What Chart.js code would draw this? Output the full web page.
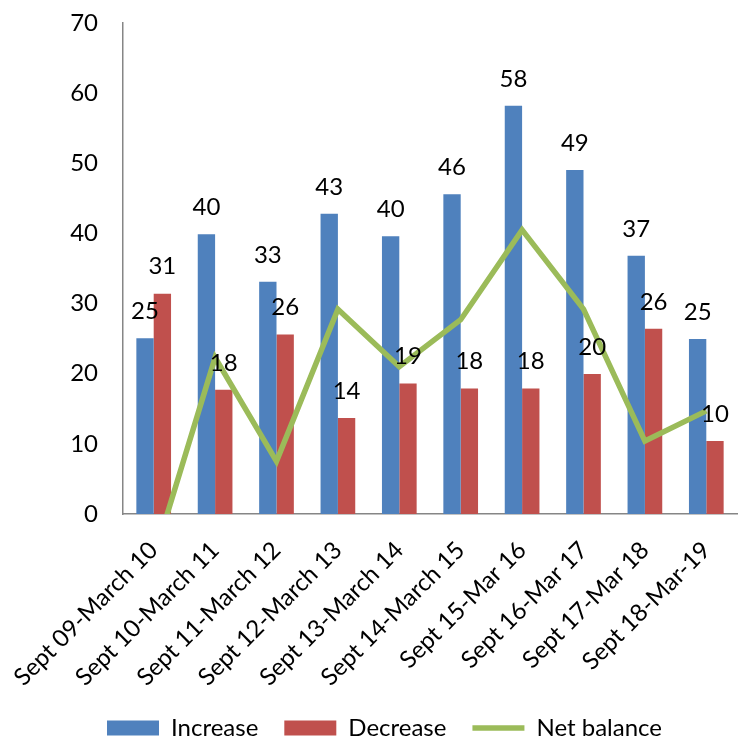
<!DOCTYPE html>
<html>
<head>
<meta charset="utf-8">
<script src="https://cdn.jsdelivr.net/npm/chart.js@4.4.1/dist/chart.umd.min.js"></script>
<style>
  html, body { margin: 0; padding: 0; background: #fff; }
  #wrap { width: 743px; height: 739px; }
</style>
</head>
<body>
<div id="wrap"><canvas id="chart"></canvas></div>
<script>
// categories and values
const periods = ['Sept 09-March 10', 'Sept 10-March 11', 'Sept 11-March 12', 'Sept 12-March 13',
    'Sept 13-March 14', 'Sept 14-March 15', 'Sept 15-Mar 16', 'Sept 16-Mar 17',
    'Sept 17-Mar 18', 'Sept 18-Mar-19'];
const increase = [25.05, 39.9, 33.1, 42.8, 39.6, 45.6, 58.2, 49.05, 36.8, 24.95];
const decrease = [31.4, 17.7, 25.6, 13.7, 18.6, 17.9, 17.9, 19.95, 26.4, 10.4];
const net_balance = [-6.3, 22.3, 7.5, 29.2, 21.0, 27.7, 40.5, 29.2, 10.4, 14.7];
const y_ticks = [0, 10, 20, 30, 40, 50, 60, 70];

const FONT = 'Lato, "Open Sans", sans-serif';

// draws the rounded value above each bar
const bar_labels = {
    id: 'bar_labels',
    afterDatasetsDraw(chart) {
        const ctx = chart.ctx;
        ctx.save();
        ctx.font = '24px ' + FONT;
        ctx.fillStyle = '#000';
        ctx.textAlign = 'center';
        ctx.textBaseline = 'middle';
        [0, 1].forEach(i => {
            const meta = chart.getDatasetMeta(i);
            meta.data.forEach((bar, j) => {
                const v = chart.data.datasets[i].data[j];
                ctx.fillText(Math.round(v), bar.x, bar.y - 27);
            });
        });
        ctx.restore();
    }
};

const config = {
    type: 'bar',
    data: {
        labels: periods,
        datasets: [{
            label: 'Increase',
            data: increase,
            backgroundColor: '#4F81BD',
            borderWidth: 0,
            pointStyle: 'rect',
            order: 1
        }, {
            label: 'Decrease',
            data: decrease,
            backgroundColor: '#C0504D',
            borderWidth: 0,
            pointStyle: 'rect',
            order: 1
        }, {
            type: 'line',
            label: 'Net balance',
            data: net_balance,
            borderColor: '#9BBB59',
            backgroundColor: '#9BBB59',
            borderWidth: 5.5,
            pointRadius: 0,
            pointStyle: 'line',
            tension: 0,
            order: 0
        }]
    },
    options: {
        responsive: true,
        maintainAspectRatio: false,
        animation: false,
        categoryPercentage: 0.565,
        barPercentage: 1.0,
        layout: {
            padding: { top: 23, right: 6, left: 32, bottom: -11 }
        },
        plugins: {
            tooltip: { enabled: false },
            legend: {
                position: 'bottom',
                labels: {
                    usePointStyle: true,
                    pointStyleWidth: 52,
                    boxHeight: 15,
                    padding: 26,
                    color: '#000',
                    font: { family: FONT, size: 24 },
                    sort: (a, b) => a.datasetIndex - b.datasetIndex
                }
            }
        },
        scales: {
            x: {
                grid: { display: false, drawTicks: false },
                border: { display: true, color: '#868686', width: 1.5 },
                ticks: {
                    color: '#000',
                    font: { family: FONT, size: 24 },
                    minRotation: 45,
                    maxRotation: 45,
                    autoSkip: false,
                    padding: 22
                },
                afterFit(scale) {
                    scale.height = 176;
                    scale.paddingLeft = 0;
                    scale.paddingRight = 0;
                }
            },
            y: {
                min: 0,
                max: 70,
                grid: { display: false, drawTicks: false },
                border: { display: true, color: '#868686', width: 1.5 },
                afterBuildTicks(scale) { scale.ticks = y_ticks.map(v => ({ value: v })); },
                ticks: {
                    color: '#000',
                    font: { family: FONT, size: 24 },
                    padding: 25
                },
                afterFit(scale) {
                    scale.width = 91;
                    scale.paddingTop = 0;
                    scale.paddingBottom = 0;
                }
            }
        }
    },
    plugins: [bar_labels]
};

const chart_ctx = document.getElementById('chart').getContext('2d');
const net_chart = new Chart(chart_ctx, config);
</script>
</body>
</html>
